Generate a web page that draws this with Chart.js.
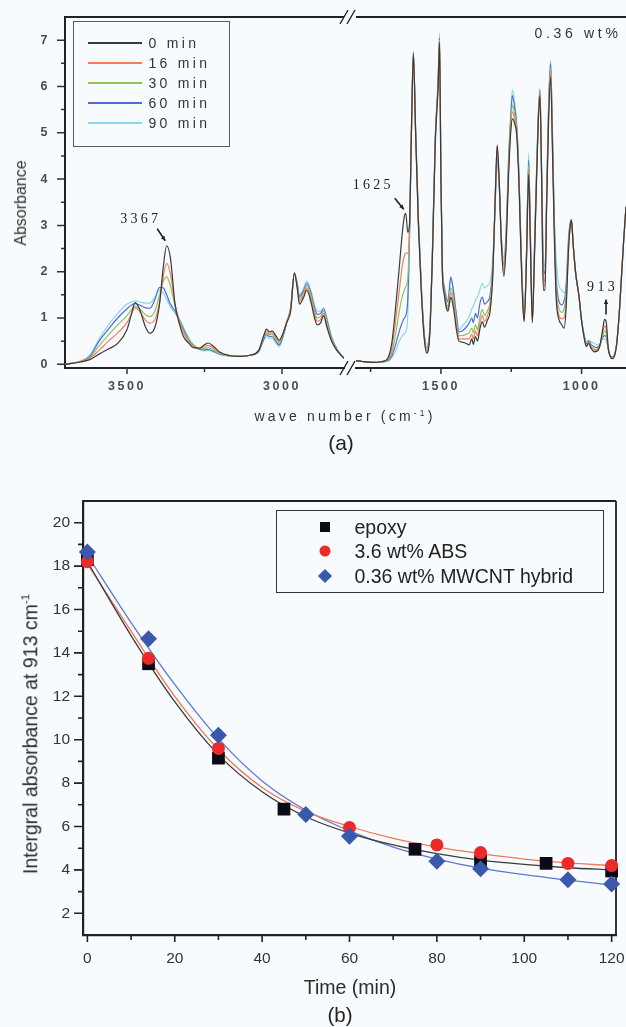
<!DOCTYPE html>
<html>
<head>
<meta charset="utf-8">
<title>FTIR spectra and 913 cm-1 band decay</title>
<script src="https://cdn.jsdelivr.net/npm/chart.js@4.4.1/dist/chart.umd.min.js"></script>
<style>
  html, body { margin: 0; padding: 0; background: #f8fbfd; }
  #figure { position: relative; width: 626px; height: 1027px; overflow: hidden;
            font-family: "Liberation Sans", Arial, sans-serif; color: #2b2b2b; }
  #figure canvas { position: absolute; left: 0; }
  .label { position: absolute; white-space: nowrap; transform: translate(-50%, -50%); }
  .label.vertical { transform: translate(-50%, -50%) rotate(-90deg); }
  .label sup { font-size: 0.6em; }
  .legend { position: absolute; box-sizing: border-box; }
  .legend .row { position: absolute; left: 0; height: 0; }
  #legendA { left: 73px; top: 21px; width: 157px; height: 126px; border: 1.5px solid #5a5a5a; }
  #legendA .sample { position: absolute; left: 14px; width: 54px; top: -1px; height: 2px; display: block; }
  #legendA .text { position: absolute; left: 74.5px; top: -9px; font-size: 14px; line-height: 18px;
                   letter-spacing: 3.3px; white-space: nowrap; color: #333; }
  #legendB { left: 276px; top: 510px; width: 328px; height: 83px; border: 1.5px solid #333; }
  #legendB .marker { position: absolute; left: 47.5px; top: 0; transform: translate(-50%, -50%); }
  #legendB .text { position: absolute; left: 77.5px; top: -12px; font-size: 19.5px; line-height: 24px;
                   white-space: nowrap; color: #222; }
</style>
</head>
<body>
<div id="figure">
  <canvas id="spectraLeft" width="626" height="460" style="top:0"></canvas>
  <canvas id="spectraRight" width="626" height="460" style="top:0"></canvas>
  <canvas id="decay" width="626" height="567" style="top:460px"></canvas>

  <div id="legendA" class="legend"></div>
  <div class="label" style="left:578px;top:33px;font-size:14px;letter-spacing:3.7px;color:#333">0.36 wt%</div>
  <div class="label vertical" style="left:21px;top:203px;font-size:16px;color:#333">Absorbance</div>
  <div class="label" style="left:345px;top:416px;font-size:14px;letter-spacing:3.2px;color:#333">wave number (cm<sup>-1</sup>)</div>
  <div class="label" style="left:341px;top:443px;font-size:21px;color:#222">(a)</div>

  <div id="legendB" class="legend"></div>
  <div class="label vertical" style="left:30px;top:734px;font-size:19.5px;color:#2b2b2b">Intergral absorbance at 913 cm<sup>-1</sup></div>
  <div class="label" style="left:350px;top:987px;font-size:19.5px;color:#2b2b2b">Time (min)</div>
  <div class="label" style="left:340px;top:1015px;font-size:20.5px;color:#222">(b)</div>
</div>

<script>
// ---------- panel (a): FTIR spectra, broken wavenumber axis ----------
const spectrumLabels = ["0 min", "16 min", "30 min", "60 min", "90 min"];
const spectrumColors = ["#3a3a3a", "#f2805e", "#8cc35a", "#4c6ed4", "#8dd6ee"];

const leftWave = [3700, 3650, 3620, 3590, 3560, 3530, 3500, 3485, 3474, 3460,
    3440, 3426, 3410, 3395, 3383, 3372, 3360, 3345, 3330, 3318,
    3300, 3286, 3265, 3250, 3238, 3220, 3200, 3170, 3135, 3100,
    3075, 3060, 3050, 3040, 3032, 3020, 3009, 2995, 2985, 2972,
    2960, 2950, 2944, 2930, 2920, 2905, 2895, 2886, 2875, 2866,
    2855, 2840, 2823, 2810, 2800];

const left0min = [0.00, 0.05, 0.10, 0.22, 0.33, 0.45, 0.75, 1.10, 1.33, 1.20,
    0.80, 0.67, 0.80, 1.30, 2.10, 2.56, 2.30, 1.30, 0.85, 0.60,
    0.45, 0.36, 0.35, 0.42, 0.46, 0.38, 0.26, 0.19, 0.17, 0.20,
    0.30, 0.60, 0.76, 0.70, 0.72, 0.62, 0.52, 0.70, 0.90, 1.15,
    1.97, 1.60, 1.30, 1.45, 1.60, 1.30, 1.00, 0.85, 0.90, 1.05,
    0.80, 0.50, 0.30, 0.20, 0.13];
const left16min = [0.00, 0.06, 0.13, 0.30, 0.50, 0.68, 0.90, 1.10, 1.22, 1.15,
    0.95, 0.89, 0.97, 1.35, 1.90, 2.18, 1.95, 1.30, 0.90, 0.68,
    0.48, 0.38, 0.34, 0.38, 0.41, 0.34, 0.25, 0.19, 0.17, 0.20,
    0.30, 0.58, 0.72, 0.67, 0.68, 0.58, 0.48, 0.70, 0.92, 1.20,
    1.97, 1.63, 1.36, 1.50, 1.65, 1.38, 1.08, 0.93, 0.97, 1.10,
    0.85, 0.52, 0.31, 0.20, 0.13];
const left30min = [0.00, 0.06, 0.15, 0.40, 0.63, 0.85, 1.05, 1.18, 1.25, 1.20,
    1.07, 1.03, 1.15, 1.50, 1.80, 1.89, 1.70, 1.25, 0.93, 0.72,
    0.50, 0.40, 0.33, 0.34, 0.36, 0.30, 0.23, 0.18, 0.17, 0.20,
    0.30, 0.56, 0.68, 0.64, 0.64, 0.54, 0.45, 0.68, 0.92, 1.22,
    1.97, 1.66, 1.41, 1.55, 1.70, 1.45, 1.15, 1.00, 1.04, 1.15,
    0.90, 0.55, 0.32, 0.20, 0.13];
const left60min = [0.00, 0.06, 0.17, 0.50, 0.76, 1.00, 1.20, 1.28, 1.31, 1.28,
    1.22, 1.21, 1.40, 1.66, 1.65, 1.50, 1.30, 1.15, 0.95, 0.76,
    0.52, 0.41, 0.32, 0.31, 0.32, 0.28, 0.22, 0.18, 0.17, 0.20,
    0.28, 0.52, 0.64, 0.60, 0.60, 0.50, 0.42, 0.65, 0.90, 1.22,
    1.97, 1.70, 1.46, 1.60, 1.75, 1.50, 1.22, 1.08, 1.10, 1.20,
    0.95, 0.57, 0.33, 0.21, 0.13];
const left90min = [0.00, 0.07, 0.20, 0.55, 0.85, 1.10, 1.30, 1.35, 1.37, 1.35,
    1.32, 1.32, 1.45, 1.60, 1.55, 1.40, 1.25, 1.10, 0.95, 0.80,
    0.56, 0.43, 0.31, 0.29, 0.30, 0.26, 0.21, 0.18, 0.17, 0.20,
    0.27, 0.50, 0.60, 0.56, 0.56, 0.46, 0.38, 0.62, 0.88, 1.22,
    1.97, 1.73, 1.50, 1.65, 1.80, 1.55, 1.28, 1.15, 1.15, 1.22,
    1.00, 0.60, 0.34, 0.21, 0.13];

const rightWave = [1802, 1780, 1740, 1710, 1690, 1675, 1660, 1648, 1638, 1630,
    1625, 1618, 1612, 1605, 1598, 1590, 1580, 1570, 1560, 1551,
    1540, 1530, 1520, 1510, 1505, 1500, 1495, 1488, 1480, 1475,
    1465, 1455, 1445, 1436, 1425, 1410, 1400, 1390, 1385, 1377,
    1370, 1362, 1353, 1345, 1335, 1325, 1315, 1306, 1300, 1293,
    1285, 1276, 1268, 1260, 1252, 1246, 1238, 1230, 1222, 1215,
    1209, 1204, 1196, 1188, 1182, 1175, 1168, 1160, 1154, 1148,
    1142, 1136, 1130, 1124, 1117, 1110, 1103, 1097, 1090, 1082,
    1070, 1062, 1055, 1046, 1040, 1036, 1030, 1021, 1009, 1000,
    990, 983, 975, 965, 955, 945, 935, 925, 918, 912,
    905, 898, 891, 884, 875, 866, 858, 850, 842];

const right0min = [0.08, 0.06, 0.04, 0.06, 0.12, 0.45, 1.30, 2.10, 2.80, 3.20,
    3.26, 2.85, 3.00, 5.00, 6.70, 5.00, 3.00, 1.60, 0.60, 0.24,
    0.60, 2.40, 4.80, 6.00, 6.95, 4.00, 2.00, 1.50, 1.20, 1.15,
    1.45, 1.20, 0.75, 0.50, 0.48, 0.45, 0.42, 0.55, 0.43, 0.60,
    0.50, 0.75, 0.92, 0.80, 0.95, 1.15, 2.00, 3.80, 4.74, 4.00,
    2.60, 1.90, 2.60, 4.00, 5.00, 5.30, 5.20, 4.90, 3.80, 2.30,
    1.30, 0.92, 2.20, 4.10, 2.60, 0.90, 2.20, 4.00, 5.20, 5.80,
    4.00, 1.60, 1.60, 3.50, 5.30, 6.20, 4.50, 2.80, 1.40, 1.00,
    0.85, 0.78, 1.20, 2.50, 3.00, 3.12, 2.60, 1.97, 1.46, 0.95,
    0.55, 0.38, 0.45, 0.33, 0.27, 0.28, 0.40, 0.75, 0.97, 0.90,
    0.35, 0.17, 0.12, 0.16, 0.45, 1.10, 1.90, 2.70, 3.40];
const right16min = [0.08, 0.06, 0.04, 0.06, 0.10, 0.35, 1.00, 1.60, 2.10, 2.35,
    2.40, 2.40, 2.90, 5.00, 6.65, 5.00, 3.05, 1.65, 0.65, 0.28,
    0.65, 2.45, 4.85, 6.05, 7.00, 4.00, 2.05, 1.55, 1.25, 1.20,
    1.55, 1.30, 0.85, 0.55, 0.55, 0.55, 0.55, 0.65, 0.55, 0.72,
    0.62, 0.88, 1.05, 0.92, 1.05, 1.25, 2.05, 3.80, 4.70, 4.00,
    2.60, 1.95, 2.65, 4.10, 5.10, 5.45, 5.30, 5.00, 3.85, 2.35,
    1.35, 0.95, 2.25, 4.20, 2.65, 0.92, 2.25, 4.05, 5.25, 5.85,
    4.05, 1.70, 1.70, 3.55, 5.40, 6.30, 4.60, 2.90, 1.50, 1.10,
    0.98, 1.00, 1.35, 2.55, 3.00, 3.12, 2.60, 1.97, 1.46, 0.95,
    0.57, 0.40, 0.47, 0.36, 0.30, 0.30, 0.40, 0.68, 0.83, 0.75,
    0.33, 0.17, 0.14, 0.17, 0.45, 1.10, 1.90, 2.70, 3.40];
const right30min = [0.08, 0.06, 0.04, 0.05, 0.08, 0.25, 0.70, 1.15, 1.45, 1.60,
    1.68, 1.85, 2.80, 5.00, 6.70, 5.00, 3.05, 1.65, 0.65, 0.30,
    0.65, 2.45, 4.85, 6.05, 7.00, 4.00, 2.05, 1.58, 1.30, 1.25,
    1.65, 1.40, 0.95, 0.62, 0.62, 0.65, 0.68, 0.78, 0.68, 0.85,
    0.75, 1.00, 1.18, 1.05, 1.15, 1.35, 2.10, 3.75, 4.60, 3.95,
    2.65, 2.05, 2.75, 4.20, 5.20, 5.60, 5.40, 5.05, 3.90, 2.40,
    1.40, 1.00, 2.30, 4.30, 2.70, 0.95, 2.30, 4.10, 5.30, 5.90,
    4.10, 1.85, 1.80, 3.60, 5.50, 6.40, 4.70, 3.00, 1.65, 1.25,
    1.12, 1.20, 1.50, 2.60, 3.02, 3.12, 2.60, 1.97, 1.46, 0.95,
    0.58, 0.42, 0.48, 0.38, 0.33, 0.32, 0.40, 0.62, 0.72, 0.66,
    0.32, 0.18, 0.15, 0.18, 0.45, 1.10, 1.90, 2.70, 3.40];
const right60min = [0.08, 0.06, 0.04, 0.05, 0.07, 0.18, 0.45, 0.72, 0.90, 1.00,
    1.05, 1.40, 2.70, 5.00, 6.75, 5.05, 3.10, 1.70, 0.70, 0.35,
    0.70, 2.50, 4.90, 6.10, 7.05, 4.05, 2.10, 1.65, 1.40, 1.35,
    1.89, 1.55, 1.05, 0.70, 0.72, 0.80, 0.89, 1.00, 0.90, 1.10,
    1.00, 1.30, 1.45, 1.30, 1.35, 1.50, 2.20, 3.70, 4.50, 3.90,
    2.70, 2.15, 2.85, 4.30, 5.30, 5.80, 5.55, 5.10, 3.95, 2.45,
    1.45, 1.02, 2.35, 4.40, 2.80, 0.98, 2.35, 4.15, 5.35, 5.92,
    4.15, 2.10, 1.95, 3.65, 5.60, 6.50, 4.80, 3.10, 1.85, 1.40,
    1.28, 1.38, 1.65, 2.70, 3.05, 3.12, 2.60, 1.97, 1.46, 0.95,
    0.60, 0.45, 0.50, 0.42, 0.38, 0.36, 0.42, 0.58, 0.62, 0.58,
    0.32, 0.18, 0.16, 0.19, 0.45, 1.10, 1.90, 2.70, 3.40];
const right90min = [0.08, 0.06, 0.04, 0.05, 0.06, 0.14, 0.30, 0.50, 0.62, 0.66,
    0.70, 1.05, 2.55, 5.00, 6.75, 5.10, 3.15, 1.75, 0.75, 0.42,
    0.75, 2.55, 4.95, 6.20, 7.15, 4.10, 2.15, 1.70, 1.45, 1.40,
    1.85, 1.60, 1.10, 0.75, 0.82, 0.92, 1.03, 1.20, 1.25, 1.39,
    1.45, 1.60, 1.75, 1.65, 1.70, 1.78, 2.35, 3.60, 4.40, 3.85,
    2.75, 2.30, 2.95, 4.40, 5.40, 5.93, 5.65, 5.15, 4.00, 2.50,
    1.50, 1.05, 2.40, 4.56, 2.90, 1.00, 2.40, 4.20, 5.40, 5.96,
    4.20, 2.40, 2.10, 3.70, 5.70, 6.57, 4.90, 3.20, 2.25, 1.75,
    1.60, 1.54, 1.80, 2.80, 3.08, 3.12, 2.60, 1.97, 1.46, 0.95,
    0.62, 0.48, 0.52, 0.48, 0.45, 0.42, 0.44, 0.55, 0.55, 0.52,
    0.32, 0.18, 0.16, 0.20, 0.45, 1.10, 1.90, 2.70, 3.40];

const leftWaveTicks = [3500, 3000];
const leftWaveMinor = [3250];
const rightWaveTicks = [1500, 1000];
const rightWaveMinor = [1750, 1250];
const absorbTicks = [0, 1, 2, 3, 4, 5, 6, 7];
const absorbMinor = [0.5, 1.5, 2.5, 3.5, 4.5, 5.5, 6.5];

// marked peaks: wavenumber, height, label
const peakWave = [3367, 1625, 913];
const peakHeight = [2.56, 3.26, 0.97];
const peakText = ["3367", "1625", "913"];
// label centre and arrow tail/head, in px relative to the peak
const peakOffsets = [
    [-29, -26, -11, -17, -3, -5],
    [-34, -28, -11, -15, -2, -4],
    [-5, -32, 0, -5, 0, -20],
];

// ---------- panel (b): integral absorbance at 913 cm-1 vs time ----------
const epoxyTime = [0, 14, 30, 45, 75, 90, 105, 120];
const epoxyArea = [18.3, 13.5, 9.15, 6.8, 4.95, 4.4, 4.3, 3.95];
const absTime = [0, 14, 30, 60, 80, 90, 110, 120];
const absArea = [18.2, 13.75, 9.6, 5.95, 5.15, 4.8, 4.3, 4.2];
const cntTime = [0, 14, 30, 50, 60, 80, 90, 110, 120];
const cntArea = [18.65, 14.65, 10.2, 6.55, 5.55, 4.4, 4.05, 3.55, 3.35];

const fitTime = [0, 10, 20, 30, 40, 50, 60, 70, 80, 90, 100, 110, 120];
const epoxyFit = [18.2, 14.8, 11.75, 9.3, 7.6, 6.45, 5.7, 5.15, 4.75, 4.45, 4.25, 4.1, 4.0];
const absFit = [18.1, 15.0, 12.0, 9.55, 7.8, 6.7, 6.0, 5.45, 5.05, 4.75, 4.5, 4.32, 4.2];
const cntFit = [18.5, 15.4, 12.55, 10.05, 8.1, 6.75, 5.8, 5.05, 4.5, 4.08, 3.78, 3.53, 3.3];

const timeTicks = [0, 20, 40, 60, 80, 100, 120];
const timeMinor = [10, 30, 50, 70, 90, 110];
const areaTicks = [2, 4, 6, 8, 10, 12, 14, 16, 18, 20];
const areaMinor = [3, 5, 7, 9, 11, 13, 15, 17, 19];

const decaySeries = [
    { label: "epoxy", style: "rect", radius: 9, color: "#0b0b18", line: "#3a3a3a" },
    { label: "3.6 wt% ABS", style: "circle", radius: 6.5, color: "#ec2a2a", line: "#f0775a" },
    { label: "0.36 wt% MWCNT hybrid", style: "rectRot", radius: 8.5, color: "#3a58ac", line: "#5a7bd0" },
];

const pairs = (xs, ys) => xs.map((x, i) => ({ x, y: ys[i] }));
const fixedTicks = (values) => (scale) => { scale.ticks = values.map((v) => ({ value: v })); };
const noPadding = (scale) => {
    scale.paddingLeft = 0; scale.paddingRight = 0; scale.paddingTop = 0; scale.paddingBottom = 0;
};

// ---------- plugins ----------
const letterSpacing = {
    id: "letterSpacing",
    beforeDraw(chart, args, opts) {
        chart.ctx.letterSpacing = opts.value || "0px";
    },
};

const tickMarks = {
    id: "tickMarks",
    beforeDatasetsDraw(chart, args, opts) {
        const { ctx, chartArea } = chart;
        ctx.save();
        ctx.strokeStyle = opts.color;
        ctx.lineWidth = opts.lineWidth;
        ctx.beginPath();
        for (const axis of ["x", "y"]) {
            const cfg = opts[axis];
            if (!cfg) continue;
            const scale = chart.scales[axis];
            const groups = [[cfg.major, cfg.majorLength], [cfg.minor, cfg.minorLength]];
            for (const [values, len] of groups) {
                for (const v of values) {
                    if (v < scale.min || v > scale.max) continue;
                    const p = scale.getPixelForValue(v);
                    if (axis === "x") {
                        ctx.moveTo(p, chartArea.bottom);
                        ctx.lineTo(p, chartArea.bottom + len);
                    } else {
                        ctx.moveTo(chartArea.left, p);
                        ctx.lineTo(chartArea.left - len, p);
                    }
                }
            }
        }
        ctx.stroke();
        ctx.restore();
    },
};

const frame = {
    id: "frame",
    beforeDatasetsDraw(chart, args, opts) {
        const { ctx, chartArea } = chart;
        ctx.save();
        ctx.strokeStyle = opts.color;
        ctx.lineWidth = opts.lineWidth;
        ctx.beginPath();
        ctx.moveTo(chartArea.left, chartArea.top);
        ctx.lineTo(chartArea.right, chartArea.top);
        if (opts.right) {
            ctx.moveTo(chartArea.right, chartArea.top);
            ctx.lineTo(chartArea.right, chartArea.bottom);
        }
        if (opts.bottom) {
            ctx.moveTo(chartArea.left, chartArea.bottom);
            ctx.lineTo(chartArea.right, chartArea.bottom);
        }
        ctx.stroke();
        if (opts.breakMarks) {
            const cx = chartArea.left - 6;
            ctx.lineWidth = 1.4;
            ctx.beginPath();
            for (const y of [chartArea.top, chartArea.bottom]) {
                for (const dx of [-6, 1]) {
                    ctx.moveTo(cx + dx - 4, y + 7);
                    ctx.lineTo(cx + dx + 4, y - 7);
                }
            }
            ctx.stroke();
        }
        ctx.restore();
    },
};

const peakLabels = {
    id: "peakLabels",
    afterDatasetsDraw(chart) {
        const { ctx } = chart;
        const xs = chart.scales.x;
        const ys = chart.scales.y;
        ctx.save();
        ctx.font = "14px 'Liberation Serif', 'Times New Roman', serif";
        ctx.letterSpacing = "3.3px";
        ctx.fillStyle = "#222";
        ctx.strokeStyle = "#222";
        ctx.textAlign = "center";
        ctx.textBaseline = "middle";
        peakWave.forEach((w, i) => {
            if (w < xs.min || w > xs.max) return;
            const px = xs.getPixelForValue(w);
            const py = ys.getPixelForValue(peakHeight[i]);
            const [tx, ty, ax0, ay0, ax1, ay1] = peakOffsets[i];
            ctx.fillText(peakText[i], px + tx + 1.5, py + ty);
            const x0 = px + ax0, y0 = py + ay0, x1 = px + ax1, y1 = py + ay1;
            ctx.lineWidth = 1.6;
            ctx.beginPath();
            ctx.moveTo(x0, y0);
            ctx.lineTo(x1, y1);
            ctx.stroke();
            const ang = Math.atan2(y1 - y0, x1 - x0);
            ctx.beginPath();
            ctx.moveTo(x1, y1);
            ctx.lineTo(x1 - 5 * Math.cos(ang - 0.45), y1 - 5 * Math.sin(ang - 0.45));
            ctx.lineTo(x1 - 5 * Math.cos(ang + 0.45), y1 - 5 * Math.sin(ang + 0.45));
            ctx.closePath();
            ctx.fill();
        });
        ctx.restore();
    },
};

// ---------- charts ----------
const topFont = { family: "'Liberation Sans', Arial, sans-serif", size: 12.5, weight: "bold" };

function spectrumChart(canvasId, waves, series, range, majorTicks, minorTicks, padLeft, padRight, showY, breakMarks) {
    return new Chart(document.getElementById(canvasId), {
        type: "line",
        data: {
            datasets: series.map((values, i) => ({
                label: spectrumLabels[i],
                data: pairs(waves, values),
                borderColor: spectrumColors[i],
                borderWidth: 1.2,
                pointRadius: 0,
                cubicInterpolationMode: "monotone",
            })),
        },
        options: {
            responsive: false,
            animation: false,
            events: [],
            layout: { padding: { top: 17, left: padLeft, right: padRight, bottom: 0 } },
            plugins: {
                legend: { display: false },
                tooltip: { enabled: false },
                letterSpacing: { value: "2.5px" },
                tickMarks: {
                    color: "#333",
                    lineWidth: 1.5,
                    x: { major: majorTicks, minor: minorTicks, majorLength: 6, minorLength: 4 },
                    y: showY ? { major: absorbTicks, minor: absorbMinor, majorLength: 8, minorLength: 4 } : null,
                },
                frame: { color: "#222", lineWidth: 2, right: false, bottom: !showY, breakMarks },
            },
            scales: {
                x: {
                    type: "linear",
                    reverse: true,
                    min: range[0],
                    max: range[1],
                    afterBuildTicks: fixedTicks(majorTicks),
                    afterFit(scale) { scale.height = 92; noPadding(scale); },
                    grid: { display: false, drawTicks: true, tickLength: 6 },
                    border: { display: true, color: "#222", width: 2 },
                    ticks: {
                        padding: 5,
                        color: "#4a4a4a",
                        font: topFont,
                        maxRotation: 0,
                        autoSkip: false,
                        callback: (v) => String(v),
                    },
                },
                y: {
                    display: showY,
                    min: -0.08,
                    max: 7.5,
                    afterBuildTicks: fixedTicks(absorbTicks),
                    afterFit(scale) { scale.width = showY ? 65 : 0; noPadding(scale); },
                    grid: { display: false, drawTicks: true, tickLength: 8 },
                    border: { display: true, color: "#222", width: 2 },
                    ticks: {
                        padding: 7,
                        color: "#4a4a4a",
                        font: topFont,
                        autoSkip: false,
                        callback: (v) => String(v),
                    },
                },
            },
        },
        plugins: [letterSpacing, tickMarks, frame, peakLabels],
    });
}

spectrumChart("spectraLeft", leftWave,
    [left0min, left16min, left30min, left60min, left90min],
    [2800, 3700], leftWaveTicks, leftWaveMinor, 0, 282, true, false);
spectrumChart("spectraRight", rightWave,
    [right0min, right16min, right30min, right60min, right90min],
    [842, 1802], rightWaveTicks, rightWaveMinor, 356, 0, false, true);

const bottomFont = { family: "'Liberation Sans', Arial, sans-serif", size: 15.5 };
const fitData = [epoxyFit, absFit, cntFit];
const pointData = [pairs(epoxyTime, epoxyArea), pairs(absTime, absArea), pairs(cntTime, cntArea)];

new Chart(document.getElementById("decay"), {
    type: "line",
    data: {
        datasets: [
            ...decaySeries.map((s, i) => ({
                label: `${s.label} fit`,
                data: pairs(fitTime, fitData[i]),
                borderColor: s.line,
                borderWidth: 1.3,
                pointRadius: 0,
                cubicInterpolationMode: "monotone",
                order: 10,
            })),
            ...decaySeries.map((s, i) => ({
                label: s.label,
                data: pointData[i],
                showLine: false,
                pointStyle: s.style,
                pointRadius: s.radius,
                pointBackgroundColor: s.color,
                pointBorderWidth: 0,
                backgroundColor: s.color,
                borderColor: s.color,
                clip: false,
                order: 3 - i,
            })),
        ],
    },
    options: {
        responsive: false,
        animation: false,
        events: [],
        layout: { padding: { top: 41, left: 0, right: 10, bottom: 0 } },
        plugins: {
            legend: { display: false },
            tooltip: { enabled: false },
            tickMarks: {
                color: "#222",
                lineWidth: 1.6,
                x: { major: timeTicks, minor: timeMinor, majorLength: 7, minorLength: 5 },
                y: { major: areaTicks, minor: areaMinor, majorLength: 9, minorLength: 5 },
            },
            frame: { color: "#222", lineWidth: 1.8, right: true, bottom: false, breakMarks: false },
        },
        scales: {
            x: {
                type: "linear",
                min: -1,
                max: 121,
                afterBuildTicks: fixedTicks(timeTicks),
                afterFit(scale) { scale.height = 92; noPadding(scale); },
                grid: { display: false, drawTicks: true, tickLength: 8 },
                border: { display: true, color: "#222", width: 2.2 },
                ticks: {
                    padding: 6,
                    color: "#333",
                    font: bottomFont,
                    maxRotation: 0,
                    autoSkip: false,
                    callback: (v) => String(v),
                },
            },
            y: {
                min: 1,
                max: 21,
                afterBuildTicks: fixedTicks(areaTicks),
                afterFit(scale) { scale.width = 83; noPadding(scale); },
                grid: { display: false, drawTicks: true, tickLength: 8 },
                border: { display: true, color: "#222", width: 2.2 },
                ticks: {
                    padding: 5,
                    color: "#333",
                    font: bottomFont,
                    autoSkip: false,
                    callback: (v) => String(v),
                },
            },
        },
    },
    plugins: [tickMarks, frame],
});

// ---------- HTML legends ----------
const legendA = document.getElementById("legendA");
spectrumLabels.forEach((label, i) => {
    const row = document.createElement("div");
    row.className = "row";
    row.style.top = `${21 + 20 * i}px`;
    row.innerHTML = `<span class="sample" style="background-color:${spectrumColors[i]}"></span>` +
        `<span class="text">${label}</span>`;
    legendA.appendChild(row);
});

const markerCss = {
    rect: (c) => `width:10px;height:10px;background:${c}`,
    circle: (c) => `width:11px;height:11px;border-radius:50%;background:${c}`,
    rectRot: (c) => `width:10px;height:10px;background:${c};transform:translate(-50%,-50%) rotate(45deg)`,
};
const legendB = document.getElementById("legendB");
decaySeries.forEach((s, i) => {
    const row = document.createElement("div");
    row.className = "row";
    row.style.top = `${15.5 + 24.8 * i}px`;
    row.innerHTML = `<span class="marker" style="${markerCss[s.style](s.color)}"></span>` +
        `<span class="text">${s.label}</span>`;
    legendB.appendChild(row);
});
</script>
